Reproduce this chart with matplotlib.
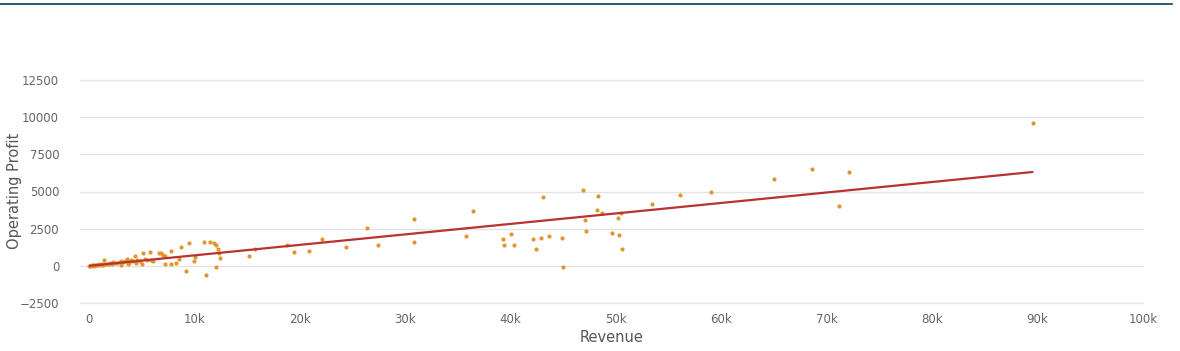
import matplotlib
matplotlib.use("Agg")
import matplotlib.pyplot as plt
from matplotlib.lines import Line2D

# Revenue (thousands) and operating profit
revenue_k = [
    0.05, 0.1, 0.2, 0.3, 0.4, 0.5, 0.6, 0.7, 0.8, 0.9, 1.0, 1.1, 1.2, 1.3, 1.39,
    1.5, 1.7, 1.9, 2.0, 2.2, 2.3, 2.5, 2.7, 2.9, 3.0, 3.07, 3.2, 3.4, 3.6, 3.7,
    3.8, 4.0, 4.2, 4.36, 4.5, 4.6, 4.8, 5.0, 5.1, 5.3, 5.5, 5.8, 5.9, 6.04,
    6.64, 6.83, 7.02, 7.18, 7.2, 7.75, 7.8, 8.3, 8.5, 8.7, 9.2, 9.5, 10.0, 10.1,
    10.9, 11.07, 11.45, 11.83, 12.02, 12.2, 12.02, 12.3, 12.4,
    15.2, 15.8, 18.8, 19.5, 20.9, 22.1, 24.4, 26.4, 27.4, 30.8, 30.8, 35.8, 36.4,
    39.3, 39.4, 40.0, 40.3, 42.1, 42.4, 42.9, 43.1, 43.6, 44.9, 45.0, 46.9, 47.1,
    47.2, 48.2, 48.3, 48.7, 49.6, 50.2, 50.3, 50.5, 50.6, 53.4, 56.1, 59.0, 65.0,
    68.6, 72.1, 71.2, 89.6,
]
operating_profit = [
    10, 20, -10, 30, 40, 20, 60, 30, 80, 50, 90, 60, 120, 80, 360,
    100, 140, 90, 180, 150, 270, 200, 190, 250, 300, 70, 260, 330, 470, 130,
    180, 380, 300, 630, 220, 420, 350, 130, 830, 480, 420, 920, 360, 340,
    890, 850, 760, 670, 150, 1020, 90, 220, 470, 1300, -320, 1560, 340, 600,
    1620, -650, 1620, 1560, 1420, 1160, -50, 830, 560,
    630, 1160, 1430, 960, 1030, 1830, 1300, 2570, 1430, 3180, 1630, 2040, 3720,
    1830, 1370, 2170, 1430, 1830, 1160, 1900, 4660, 2040, 1900, -110, 5130, 3110,
    2370, 3780, 4700, 3580, 2240, 3250, 2100, 3580, 1100, 4150, 4790, 4970, 5870,
    6540, 6300, 4010, 9610,
]

# Trend line (linear fit shown in the chart)
trend_x_k = [0.0, 89.6]
trend_slope = 0.0705   # profit per revenue unit
trend_intercept = 0.0

x_ticks_k = [0, 10, 20, 30, 40, 50, 60, 70, 80, 90, 100]
x_tick_labels = ["0", "10k", "20k", "30k", "40k", "50k", "60k", "70k", "80k", "90k", "100k"]
y_ticks = [-2500, 0, 2500, 5000, 7500, 10000, 12500]
y_tick_labels = ["\u22122500", "0", "2500", "5000", "7500", "10000", "12500"]

W, H = 1180, 351
fig = plt.figure(figsize=(W / 100, H / 100), dpi=100)
fig.patch.set_facecolor("white")
ax = fig.add_axes([80 / W, (H - 303) / H, (1143 - 80) / W, (303 - 80) / H])

ax.scatter(revenue_k, operating_profit, s=9, color="#e0962a", linewidths=0, zorder=3)
trend_y = [trend_intercept + trend_slope * 1000 * x for x in trend_x_k]
ax.plot(trend_x_k, trend_y, color="#b83232", lw=1.6, zorder=4, solid_capstyle="butt")

ax.set_xlim(-0.85, 100)
ax.set_ylim(-2500, 12500)
ax.set_xticks(x_ticks_k)
ax.set_xticklabels(x_tick_labels)
ax.set_yticks(y_ticks)
ax.set_yticklabels(y_tick_labels)
ax.tick_params(axis="both", length=0, labelcolor="#666666", labelsize=8.5)
ax.tick_params(axis="x", pad=7)
ax.tick_params(axis="y", pad=15)
ax.grid(axis="y", color="#e4e4e4", lw=1)
ax.grid(axis="x", visible=False)
ax.set_axisbelow(True)
for gl in ax.get_ygridlines():
    gl.set_clip_on(False)
for s in ax.spines.values():
    s.set_visible(False)

ax.set_xlabel("Revenue", color="#555555", fontsize=10.5, labelpad=3)
fig.text(15 / W, 1 - 191 / H, "Operating Profit", color="#555555", fontsize=10.5,
         rotation=90, ha="center", va="center")

fig.add_artist(Line2D([0, 1172 / W], [1 - 4 / H, 1 - 4 / H], transform=fig.transFigure,
                      color="#0b3a60", lw=1.2))

fig.savefig("out.png", dpi=100, facecolor="white")
